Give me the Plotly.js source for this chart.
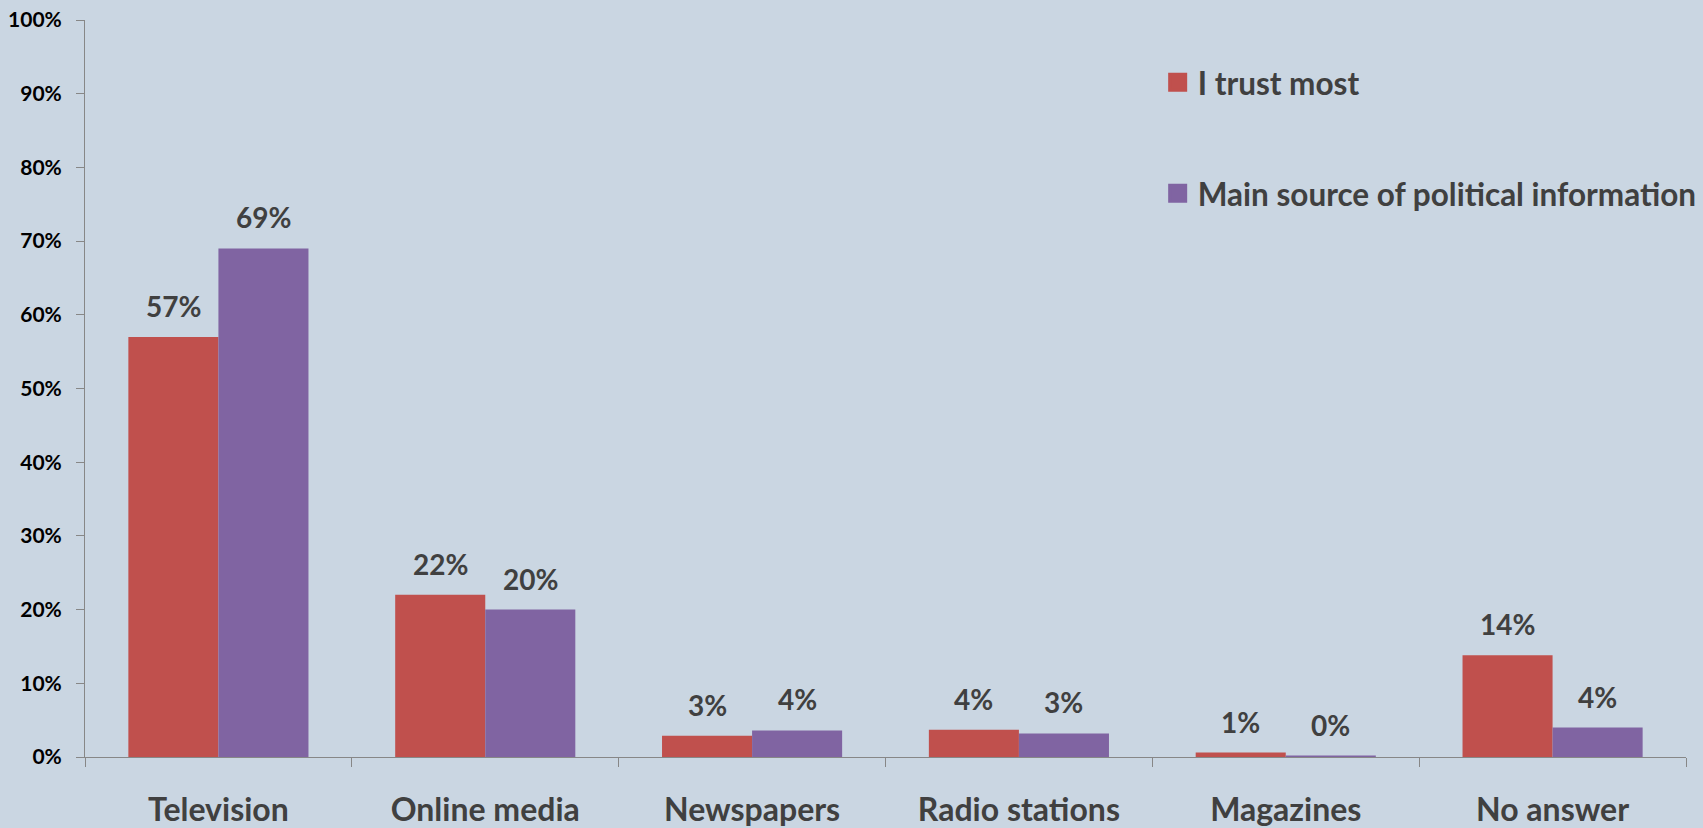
<!DOCTYPE html>
<html>
<head>
<meta charset="utf-8">
<script src="https://cdn.plot.ly/plotly-3.0.1.min.js"></script>
<style>html,body{margin:0;padding:0;background:#CAD6E2;}#chart{width:1703px;height:828px;}</style>
</head>
<body>
<div id="chart"></div>
<script>
const categories = ['Television', 'Online media', 'Newspapers', 'Radio stations', 'Magazines', 'No answer'];
const trustMost = [0.57, 0.22, 0.029, 0.037, 0.006, 0.138];
const mainSource = [0.69, 0.20, 0.036, 0.032, 0.002, 0.04];
const seriesNames = ['I trust most', 'Main source of political information'];
const seriesColors = ['#C0504D', '#8064A2'];
const yTickVals = [0, 0.1, 0.2, 0.3, 0.4, 0.5, 0.6, 0.7, 0.8, 0.9, 1.0];

const FONT = 'Lato, "Open Sans", sans-serif';
const BARGAP = 0.325;
const seriesValues = [trustMost, mainSource];

const traces = seriesValues.map((vals, s) => ({
  type: 'bar',
  name: seriesNames[s],
  legendgroup: 'g' + s,
  showlegend: false,
  x: categories,
  y: vals,
  marker: {color: seriesColors[s], line: {width: 0}},
  hoverinfo: 'skip'
}));

// legend entries with larger square swatches
seriesNames.forEach((name, s) => {
  traces.push({
    type: 'scatter',
    mode: 'markers',
    name: name,
    legendgroup: 'g' + s,
    x: [categories[0]],
    y: [null],
    marker: {symbol: 'square', size: 16, color: seriesColors[s], line: {width: 3, color: seriesColors[s]}},
    hoverinfo: 'skip'
  });
});

const barW = (1 - BARGAP) / seriesValues.length;
const annotations = [];
seriesValues.forEach((vals, s) => {
  vals.forEach((v, i) => {
    annotations.push({
      xref: 'x', yref: 'y',
      x: i + (s - (seriesValues.length - 1) / 2) * barW,
      y: v,
      yanchor: 'bottom',
      yshift: 12,
      showarrow: false,
      text: Math.round(v * 100) + '%',
      font: {family: FONT, size: 28, color: '#404040', weight: 'bold'}
    });
  });
});

const layout = {
  width: 1703,
  height: 828,
  margin: {l: 85, r: 17, t: 19.5, b: 71, autoexpand: false},
  paper_bgcolor: '#CAD6E2',
  plot_bgcolor: '#CAD6E2',
  barmode: 'group',
  bargap: BARGAP,
  bargroupgap: 0,
  showlegend: true,
  legend: {
    x: 0.67, xanchor: 'left',
    y: 0.952, yanchor: 'top',
    bgcolor: 'rgba(0,0,0,0)',
    font: {family: FONT, size: 31.5, color: '#404040', weight: 'bold'},
    tracegroupgap: 67,
    traceorder: 'grouped'
  },
  xaxis: {
    type: 'category',
    showline: true, linecolor: '#878787', linewidth: 1,
    ticks: 'outside', tickson: 'boundaries', ticklen: 9, tickcolor: '#878787',
    ticklabelstandoff: 25,
    showgrid: false, zeroline: false,
    tickfont: {family: FONT, size: 32, color: '#404040', weight: 'bold'}
  },
  yaxis: {
    range: [0, 1],
    tickvals: yTickVals,
    tickformat: '.0%',
    showline: true, linecolor: '#878787', linewidth: 1,
    ticks: 'outside', ticklen: 8, tickcolor: '#878787',
    ticklabelstandoff: 10,
    showgrid: false, zeroline: false,
    tickfont: {family: FONT, size: 21, color: '#000000', weight: 'bold'}
  },
  annotations: annotations
};

Plotly.newPlot('chart', traces, layout, {displayModeBar: false, staticPlot: true});
</script>
</body>
</html>
